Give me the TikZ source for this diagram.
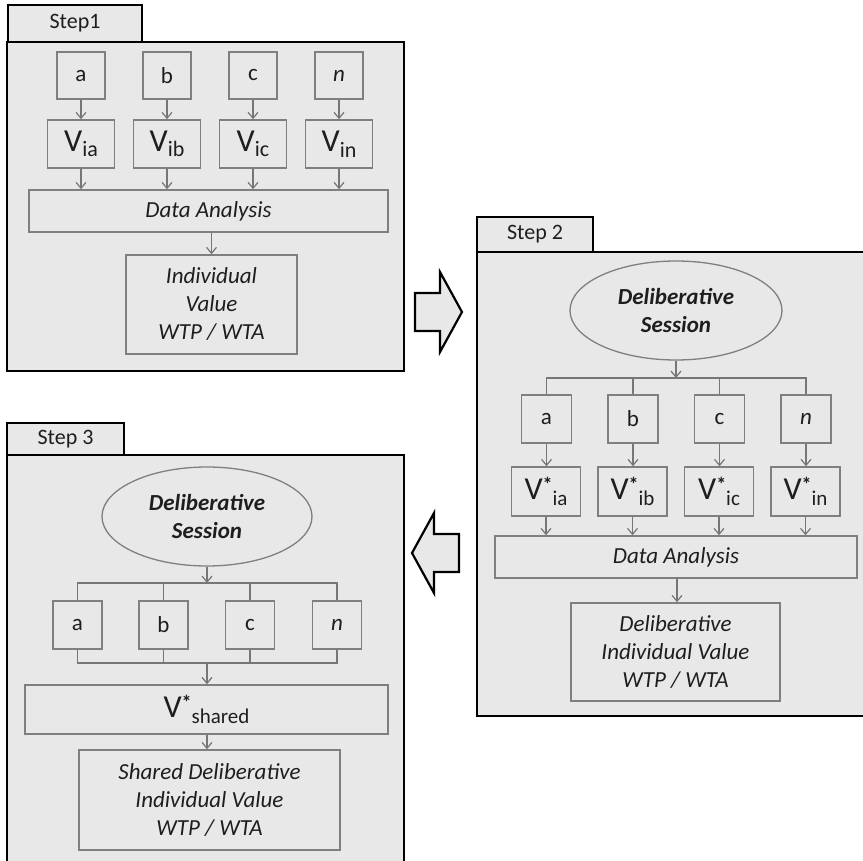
\documentclass[tikz,border=0pt]{standalone}
\usepackage{fontspec}
\setmainfont{Carlito}
\usetikzlibrary{shapes.geometric,arrows.meta}
\definecolor{panelgray}{HTML}{E8E8E8}
\definecolor{boxgray}{HTML}{7F7F7F}
\definecolor{linegray}{HTML}{767676}
\definecolor{textgray}{HTML}{1E1E1E}
\newcommand{\txt}{\fontsize{23}{28}\selectfont}
\newcommand{\tabtxt}{\fontsize{22}{24}\selectfont}
\newcommand{\Vsub}[1]{{\fontsize{32}{32}\selectfont V}\raisebox{-0.5ex}{\fontsize{22}{22}\selectfont #1}}
\newcommand{\Vstar}[1]{{\fontsize{32}{32}\selectfont V}\raisebox{7.5pt}{\fontsize{20}{20}\selectfont\bfseries *}\raisebox{-0.6ex}{\fontsize{21}{21}\selectfont #1}}
\begin{document}
\begin{tikzpicture}[x=1pt,y=-1pt,
  panel/.style={draw=black, line width=2.4pt, fill=panelgray, inner sep=0pt, rectangle},
  tabbox/.style={panel, text=textgray, font=\tabtxt},
  box/.style={draw=boxgray, line width=1.5pt, fill=panelgray, inner sep=0pt, text=textgray, font=\txt, align=center, rectangle},
  sess/.style={ellipse, draw=boxgray, line width=1.3pt, fill=panelgray, inner sep=0pt, text=textgray, font=\txt\bfseries\itshape, align=center},
  conn/.style={draw=linegray, line width=1.2pt, -{Straight Barb[length=6pt,width=10pt]}},
  wire/.style={draw=linegray, line width=1.2pt},
  bigarrow/.style={draw=black, line width=2.2pt, fill=panelgray, line join=miter}
]
\useasboundingbox (0,0) rectangle (863,861);

% ---------------- Step 1 ----------------
\node[panel, minimum width=397pt, minimum height=329pt] (p1) at (205.5,206.5) {};
\node[tabbox, minimum width=134pt, minimum height=37pt] (t1) at (75,23.5) {Step1};
\foreach \n/\x/\l in {a/81/a, b/167/b, c/253/c, n/339/\textit{n}}{
  \node[box, minimum width=48pt, minimum height=47pt] (s1\n) at (\x,75.5) {\l};
}
\node[box, minimum width=67pt, minimum height=48pt] (v1a) at (81,144) {\Vsub{ia}};
\node[box, minimum width=67pt, minimum height=48pt] (v1b) at (167,144) {\Vsub{ib}};
\node[box, minimum width=67pt, minimum height=48pt] (v1c) at (253,144) {\Vsub{ic}};
\node[box, minimum width=67pt, minimum height=48pt] (v1n) at (339,144) {\Vsub{in}};
\node[box, minimum width=359pt, minimum height=42pt] (d1) at (208.5,211) {\itshape Data Analysis};
\node[box, minimum width=171pt, minimum height=99pt] (r1) at (211.5,304.5) {\itshape Individual\\\itshape Value\\\itshape WTP / WTA};
\foreach \n in {a,b,c,n}{
  \draw[conn] (s1\n) -- (v1\n);
  \draw[conn] (v1\n.south) -- (v1\n.south |- d1.north);
}
\draw[conn] (r1.north |- d1.south) -- (r1.north);

% ---------------- Step 2 ----------------
\node[panel, minimum width=410pt, minimum height=464pt] (p2) at (682,484) {};
\node[tabbox, minimum width=116pt, minimum height=35pt] (t2) at (535,234.5) {Step 2};
\node[sess, minimum width=212pt, minimum height=99pt] (e2) at (676,310.5) {Deliberative\\Session};
\coordinate (bar2) at (676,378);
\foreach \n/\x/\l in {a/546.5/a, b/633/b, c/719.5/c, n/806/\textit{n}}{
  \node[box, minimum width=50pt, minimum height=48pt] (s2\n) at (\x,419) {\l};
}
\node[box, minimum width=69pt, minimum height=49pt] (v2a) at (546,491.5) {\Vstar{ia}};
\node[box, minimum width=69pt, minimum height=49pt] (v2b) at (632.5,491.5) {\Vstar{ib}};
\node[box, minimum width=69pt, minimum height=49pt] (v2c) at (719,491.5) {\Vstar{ic}};
\node[box, minimum width=69pt, minimum height=49pt] (v2n) at (805.5,491.5) {\Vstar{in}};
\node[box, minimum width=362pt, minimum height=42pt] (d2) at (676,557) {\itshape Data Analysis};
\node[box, minimum width=209pt, minimum height=98pt] (r2) at (675.5,652) {\itshape Deliberative\\\itshape Individual Value\\\itshape WTP / WTA};
\draw[conn] (e2.south) -- (bar2);
\draw[wire] (s2a.north) |- (s2n.north |- bar2) -- (s2n.north);
\draw[wire] (s2b.north) -- (s2b.north |- bar2);
\draw[wire] (s2c.north) -- (s2c.north |- bar2);
\foreach \n in {a,b,c,n}{
  \draw[conn] (s2\n) -- (s2\n.south |- v2\n.north);
  \draw[conn] (v2\n.south) -- (v2\n.south |- d2.north);
}
\draw[conn] (d2.south -| 677,0) -- (r2.north -| 677,0);

% ---------------- Step 3 ----------------
\node[panel, minimum width=397pt, minimum height=415pt] (p3) at (205.5,662.5) {};
\node[tabbox, minimum width=117pt, minimum height=32pt] (t3) at (65.5,439) {Step 3};
\node[sess, minimum width=210pt, minimum height=99pt] (e3) at (207,516.5) {Deliberative\\Session};
\coordinate (bar3) at (207,583);
\coordinate (low3) at (207,663);
\foreach \n/\x/\l in {a/77.5/a, b/163.5/b, c/250/c, n/337/\textit{n}}{
  \node[box, minimum width=49pt, minimum height=48pt] (s3\n) at (\x,625) {\l};
}
\node[box, minimum width=363pt, minimum height=49pt] (vs) at (206.5,709.5) {\Vstar{shared}};
\node[box, minimum width=261pt, minimum height=100pt] (r3) at (209.5,800) {\itshape Shared Deliberative\\\itshape Individual Value\\\itshape WTP / WTA};
\draw[conn] (e3.south) -- (bar3);
\draw[wire] (s3a.north) |- (s3n.north |- bar3) -- (s3n.north);
\draw[wire] (s3b.north) -- (s3b.north |- bar3);
\draw[wire] (s3c.north) -- (s3c.north |- bar3);
\draw[wire] (s3a.south) |- (s3n.south |- low3) -- (s3n.south);
\draw[wire] (s3b.south) -- (s3b.south |- low3);
\draw[wire] (s3c.south) -- (s3c.south |- low3);
\draw[conn] (low3) -- (vs.north -| low3);
\draw[conn] (vs.south -| low3) -- (r3.north -| low3);

% ---------------- big arrows ----------------
\draw[bigarrow] (415,293) -- (440,293) -- (440,272) -- (462,312) -- (440,352) -- (440,331) -- (415,331) -- cycle;
\draw[bigarrow] (459,534) -- (434,534) -- (434,513) -- (412,553) -- (434,593) -- (434,572) -- (459,572) -- cycle;
\end{tikzpicture}
\end{document}
